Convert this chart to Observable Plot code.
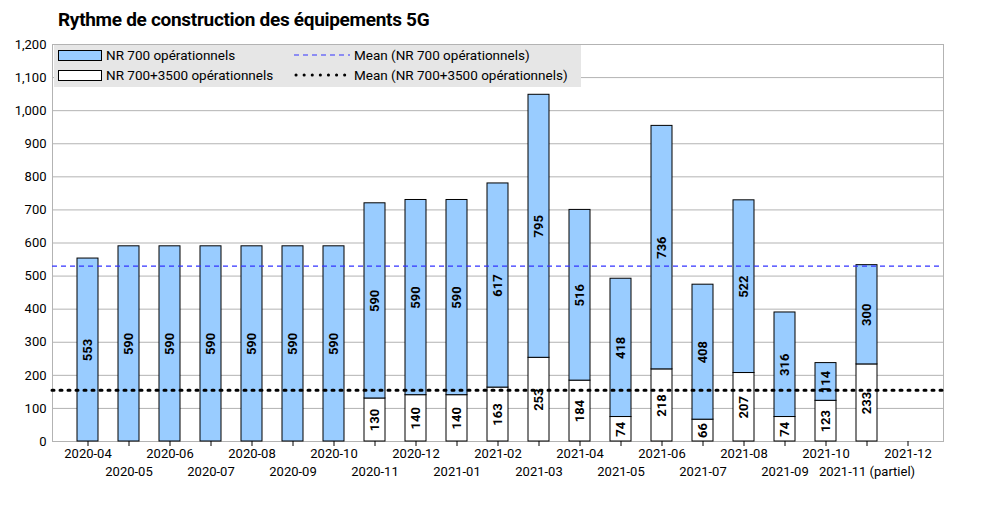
<!DOCTYPE html><html><head><meta charset="utf-8">
<script src="https://cdn.jsdelivr.net/npm/d3@7"></script>
<script src="https://cdn.jsdelivr.net/npm/@observablehq/plot@0.6"></script>
<style>body{margin:0;font-family:Roboto,sans-serif;background:#fff}#w{position:relative;width:985px;height:508px}
#t{position:absolute;left:58px;top:8px;font-size:19px;font-weight:bold;letter-spacing:-0.3px}
#lg{position:absolute;left:54px;top:45px;width:527px;height:42px;background:#e6e6e6;font-size:13.5px}
.it{position:absolute;display:flex;align-items:center;gap:4px}
.sw{width:42px;height:9px;border:1px solid #000}
</style></head><body><div id="w"><div id="t">Rythme de construction des équipements 5G</div></div>
<script>
const months=["2020-04","2020-05","2020-06","2020-07","2020-08","2020-09","2020-10","2020-11","2020-12","2021-01","2021-02","2021-03","2021-04","2021-05","2021-06","2021-07","2021-08","2021-09","2021-10","2021-11","2021-12"];
const tickLabels=[...months.slice(0,19),"2021-11 (partiel)","2021-12"];
const nr700=[553,590,590,590,590,590,590,590,590,590,617,795,516,418,736,408,522,316,114,300,null];
const nr3500=[0,0,0,0,0,0,0,130,140,140,163,253,184,74,218,66,207,74,123,233,null];
const meanNr700=530, meanNr3500=155;
const data=[];
months.forEach((m,i)=>{if(nr700[i]==null)return;
 data.push({m,s:"b",y1:0,y2:nr3500[i],v:nr3500[i]});
 data.push({m,s:"a",y1:nr3500[i],y2:nr3500[i]+nr700[i],v:nr700[i]});});
const lab=new Map(months.map((m,i)=>[m,tickLabels[i]]));
const c=Plot.plot({width:985,height:508,marginTop:44,marginBottom:67,marginLeft:52,marginRight:42,
 style:{fontFamily:"Roboto,sans-serif",fontSize:"13px",color:"#000"},
 x:{domain:months,padding:0.48,label:null},
 y:{domain:[0,1200],ticks:d3.range(0,1201,100),label:null},
 marks:[
  Plot.gridY(d3.range(100,1201,100),{stroke:"#b3b3b3",strokeOpacity:1}),
  Plot.frame({stroke:"#b3b3b3"}),
  Plot.rectY(data.filter(d=>d.v>0),{x:"m",y1:"y1",y2:"y2",fill:d=>d.s=="a"?"#99ccff":"#fff",stroke:"#000",strokeWidth:1}),
  Plot.text(data.filter(d=>d.v>0),{x:"m",y:d=>(d.y1+d.y2)/2,text:"v",rotate:-90,fontWeight:"bold",fontSize:13}),
  Plot.ruleY([meanNr700],{stroke:"#3333ff",strokeDasharray:"5,4",strokeWidth:1.2}),
  Plot.ruleY([meanNr3500],{stroke:"#000",strokeDasharray:"2,6",strokeWidth:3,strokeLinecap:"round"}),
  Plot.axisY({ticks:d3.range(0,1201,100),tickSize:0,tickPadding:6,fontSize:13}),
  Plot.axisX(months.filter((m,i)=>i%2==0),{tickFormat:d=>lab.get(d),tickSize:5,fontSize:13,tickPadding:2}),
  Plot.axisX(months.filter((m,i)=>i%2==1),{tickFormat:d=>lab.get(d),tickSize:5,fontSize:13,tickPadding:20})
 ]});
c.style.position="absolute";c.style.left="0";c.style.top="0";
const w=document.getElementById("w");w.prepend(c);
const lg=document.createElement("div");lg.id="lg";
lg.innerHTML=`<div class="it" style="left:4px;top:2px"><div class="sw" style="background:#99ccff"></div>NR 700 opérationnels</div>
<div class="it" style="left:4px;top:22px"><div class="sw" style="background:#fff"></div>NR 700+3500 opérationnels</div>
<div class="it" style="left:240px;top:2px"><svg width="56" height="10"><line x1="0" x2="56" y1="5" y2="5" stroke="#3333ff" stroke-dasharray="5,4"/></svg>Mean (NR 700 opérationnels)</div>
<div class="it" style="left:240px;top:22px"><svg width="56" height="10"><line x1="2" x2="56" y1="5" y2="5" stroke="#000" stroke-width="3" stroke-linecap="round" stroke-dasharray="0.1,8"/></svg>Mean (NR 700+3500 opérationnels)</div>`;
w.appendChild(lg);
</script></body></html>
